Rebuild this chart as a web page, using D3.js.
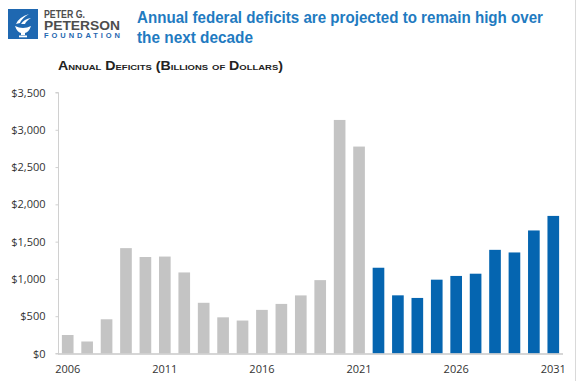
<!DOCTYPE html>
<html>
<head>
<meta charset="utf-8">
<script src="https://cdn.jsdelivr.net/npm/d3@7"></script>
<style>
  html, body { margin: 0; padding: 0; background: #fff; }
  svg { display: block; }
</style>
</head>
<body>
<svg id="chart" width="578" height="381"></svg>
<script>
const years = [2006,2007,2008,2009,2010,2011,2012,2013,2014,2015,2016,2017,2018,2019,2020,2021,
               2022,2023,2024,2025,2026,2027,2028,2029,2030,2031];
const deficits = [248,161,459,1413,1294,1300,1087,680,485,442,585,665,779,984,3132,2775,
                  1150,780,745,990,1040,1070,1390,1355,1650,1845];
const projected = [false,false,false,false,false,false,false,false,false,false,false,false,false,false,false,false,
                   true,true,true,true,true,true,true,true,true,true];
const yTicks = [0,500,1000,1500,2000,2500,3000,3500];
const xTickYears = [2006,2011,2016,2021,2026,2031];
const titleLines = ["Annual federal deficits are projected to remain high over", "the next decade"];
const subtitle = "Annual Deficits (Billions of Dollars)";

const svg = d3.select("#chart");
const blue = "#0565b0";
const gray = "#c4c4c4";

// frame line at right
svg.append("line").attr("x1",575.5).attr("x2",575.5).attr("y1",0).attr("y2",381)
  .attr("stroke","#d9d9d9").attr("stroke-width",1);

// Logo
const logo = svg.append("g");
logo.append("rect").attr("x",8).attr("y",9).attr("width",30).attr("height",30).attr("fill","#1f68b1");
logo.append("path").attr("d","M15,26 Q23,30 31,26 Q29,32 25,33 L25,35 L21,35 L21,33 Q17,32 15,26 Z").attr("fill","#fff");
logo.append("path").attr("d","M16,24 Q19,17 29,14 Q22,18 20,23 Z").attr("fill","#fff");
logo.append("path").attr("d","M21,24 Q24,19 31,18 Q26,21 25,24 Z").attr("fill","#fff");
logo.append("rect").attr("x",19).attr("y",35.5).attr("width",8).attr("height",1.8).attr("fill","#fff");
logo.append("text").attr("x",44).attr("y",17.5).text("PETER G.")
  .attr("font-family","Liberation Sans, Arial, sans-serif").attr("font-weight","bold")
  .attr("font-size",10).attr("fill","#4d4d4d").attr("textLength",41).attr("lengthAdjust","spacingAndGlyphs");
logo.append("text").attr("x",44).attr("y",29.5).text("PETERSON")
  .attr("font-family","Liberation Sans, Arial, sans-serif").attr("font-weight","bold")
  .attr("font-size",12.5).attr("fill","#4d4d4d").attr("textLength",76).attr("lengthAdjust","spacingAndGlyphs");
logo.append("text").attr("x",44).attr("y",38).text("FOUNDATION")
  .attr("font-family","Liberation Sans, Arial, sans-serif").attr("font-weight","bold")
  .attr("font-size",7.5).attr("fill","#1f68b1").attr("textLength",76).attr("lengthAdjust","spacing");

// Title
const titleWidths = [406, 116];
titleLines.forEach((t,i) => {
  svg.append("text").attr("x",137).attr("y",22.5 + i*20).text(t)
    .attr("font-family","Liberation Sans, Arial, sans-serif").attr("font-weight","bold")
    .attr("font-size",16).attr("fill","#1f7bc1")
    .attr("textLength",titleWidths[i]).attr("lengthAdjust","spacingAndGlyphs");
});

// Subtitle
svg.append("text").attr("x",58).attr("y",70).text(subtitle)
  .attr("font-family","Liberation Sans, Arial, sans-serif").attr("font-weight","bold")
  .attr("font-variant","small-caps").attr("font-size",12).attr("fill","#222")
  .attr("textLength",225).attr("lengthAdjust","spacingAndGlyphs");

// Scales
const x = d3.scaleBand().domain(years).range([58, 563]).paddingInner(0.4).paddingOuter(0.2);
const y = d3.scaleLinear().domain([0, 3500]).range([353.5, 92.5]);

// Y axis
const yAxis = d3.axisLeft(y).tickValues(yTicks).tickSize(3).tickPadding(8)
  .tickFormat(d => "$" + d3.format(",")(d));
const gy = svg.append("g").attr("transform","translate(58.5,0)").call(yAxis);
gy.select(".domain").attr("stroke","#d0d0d0").attr("d","M-3,92.5H0V353.5H-3");
gy.selectAll(".tick line").attr("stroke","#d0d0d0");
gy.selectAll(".tick text").attr("font-family","Open Sans, Liberation Sans, sans-serif")
  .attr("font-size",11).attr("fill","#333").attr("dx",-2);

// Bars
svg.append("g").selectAll("rect").data(years).join("rect")
  .attr("x", d => x(d))
  .attr("width", x.bandwidth())
  .attr("y", (d,i) => y(deficits[i]))
  .attr("height", (d,i) => y(0) - y(deficits[i]))
  .attr("fill", (d,i) => projected[i] ? blue : gray);

// X axis
const xAxis = d3.axisBottom(x).tickValues(xTickYears).tickSize(0).tickPadding(11);
const gx = svg.append("g").attr("transform","translate(0,354)").call(xAxis);
gx.select(".domain").attr("stroke","#c8c8c8").attr("stroke-width",1.5).attr("d","M58,0H563");
gx.selectAll(".tick text").attr("font-family","Open Sans, Liberation Sans, sans-serif")
  .attr("font-size",11).attr("fill","#333");
</script>
</body>
</html>
